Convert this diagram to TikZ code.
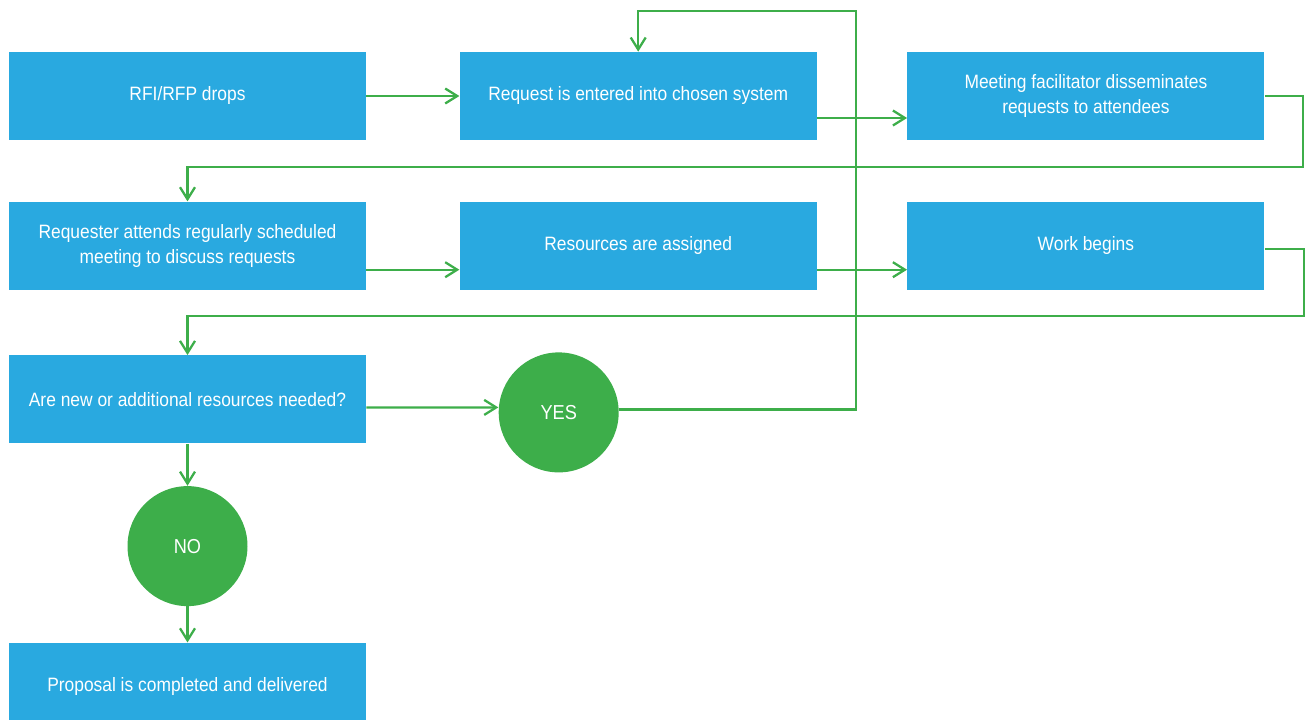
\documentclass[tikz,border=0pt]{standalone}
\usepackage{fontspec}
\setmainfont[FakeStretch=0.9]{Liberation Sans}
\usetikzlibrary{arrows.meta}
\usetikzlibrary{positioning}

\definecolor{boxblue}{HTML}{29A9E0}
\definecolor{flowgreen}{HTML}{3DAE4A}

\tikzset{
  task/.style={fill=boxblue, text=white, align=center, inner sep=0pt,
    minimum width=7.14cm, minimum height=1.76cm,
    font=\fontsize{11}{14}\selectfont},
  answer/.style={circle, fill=flowgreen, text=white, inner sep=0pt,
    minimum size=2.4cm, font=\fontsize{11.5}{14}\selectfont},
  flow/.style={draw=flowgreen, line width=1.3pt,
    -{Straight Barb[length=2.4mm,width=3mm]}},
}

\begin{document}
\begin{tikzpicture}
    \useasboundingbox (0,0) rectangle (26.2,-14.4);

    % first row
    \node[task] (drops) at (3.75,-1.92) {RFI/RFP drops};
    \node[task, right=1.86cm of drops] (entered) {Request is entered into chosen system};
    \node[task, right=1.8cm of entered] (dissem) {Meeting facilitator disseminates\\requests to attendees};

    % second row
    \node[task, below=1.22cm of drops] (attend) {Requester attends regularly scheduled\\meeting to discuss requests};
    \node[task, right=1.86cm of attend] (assign) {Resources are assigned};
    \node[task, right=1.8cm of assign] (begins) {Work begins};

    % decision
    \node[task, below=1.3cm of attend] (needed) {Are new or additional resources needed?};
    \node[answer, right=2.64cm of needed, yshift=-0.26cm] (yes) {YES};
    \node[answer, below=0.84cm of needed] (no) {NO};
    \node[task, below=0.72cm of no] (done) {Proposal is completed and delivered};

    \draw[flow] (drops) -- (entered);
    \draw[flow] ([yshift=-4.4mm]entered.east) -- ([yshift=-4.4mm]dissem.west);
    \draw[flow] (dissem.east) -- ++(0.76,0) |- ([yshift=0.68cm]attend.north) -- (attend.north);
    \draw[flow] ([yshift=-4.8mm]attend.east) -- ([yshift=-4.8mm]assign.west);
    \draw[flow] ([yshift=-4.8mm]assign.east) -- ([yshift=-4.8mm]begins.west);
    \draw[flow] ([yshift=-0.6mm]begins.east) -- ++(0.78,0) |- ([yshift=0.78cm]needed.north) -- (needed.north);
    \draw[flow] ([yshift=-1.6mm]needed.east) -- ([yshift=1mm]yes.west);
    \draw[flow] ([yshift=0.6mm]yes.east) -- ++(4.74,0) |- ([yshift=0.82cm]entered.north) -- (entered.north);
    \draw[flow] (needed) -- (no);
    \draw[flow] (no) -- (done);
\end{tikzpicture}
\end{document}
